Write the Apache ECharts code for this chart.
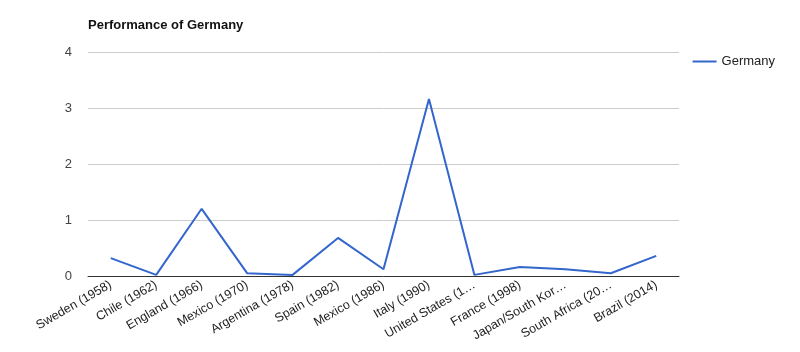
<!DOCTYPE html>
<html><head><meta charset="utf-8">
<script src="https://cdn.jsdelivr.net/npm/echarts@6/dist/echarts.min.js"></script>
<style>html,body{margin:0;padding:0;background:#fff}#c{width:800px;height:352px}</style>
</head><body><div id="c"></div>
<script>
const categories = ["Sweden (1958)","Chile (1962)","England (1966)","Mexico (1970)","Argentina (1978)","Spain (1982)","Mexico (1986)","Italy (1990)","United States (1…","France (1998)","Japan/South Kor…","South Africa (20…","Brazil (2014)"];
const germany = [0.32,0.02,1.2,0.05,0.02,0.68,0.12,3.16,0.02,0.16,0.12,0.05,0.36];
const seriesName = "Germany";
const titleText = "Performance of Germany";
const chart = echarts.init(document.getElementById('c'));
const font = "'Liberation Sans', Arial, sans-serif";
chart.setOption({
  animation:false,
  title:{text:titleText,left:83,top:14,textStyle:{fontFamily:font,fontSize:13,fontWeight:'bold',color:'#111'}},
  legend:{data:[seriesName],right:20,top:50,orient:'vertical',icon:'rect',itemWidth:24,itemHeight:2,itemGap:6,
    textStyle:{fontFamily:font,fontSize:13,color:'#222'}},
  grid:{left:88,right:121,top:52,bottom:76,containLabel:false},
  xAxis:{type:'category',data:categories,boundaryGap:true,
    axisLine:{lineStyle:{color:'#333',width:1}},axisTick:{show:false},
    axisLabel:{rotate:30,interval:0,fontFamily:font,fontSize:12.5,color:'#222',margin:8}},
  yAxis:{type:'value',min:0,max:4,interval:1,
    axisLine:{show:false},axisTick:{show:false},
    splitLine:{lineStyle:{color:'#ccc'}},
    axisLabel:{fontFamily:font,fontSize:13,color:'#444',margin:16}},
  series:[{name:seriesName,type:'line',data:germany,symbol:'none',lineStyle:{color:'#3366cc',width:2},itemStyle:{color:'#3366cc'}}]
});
</script></body></html>
